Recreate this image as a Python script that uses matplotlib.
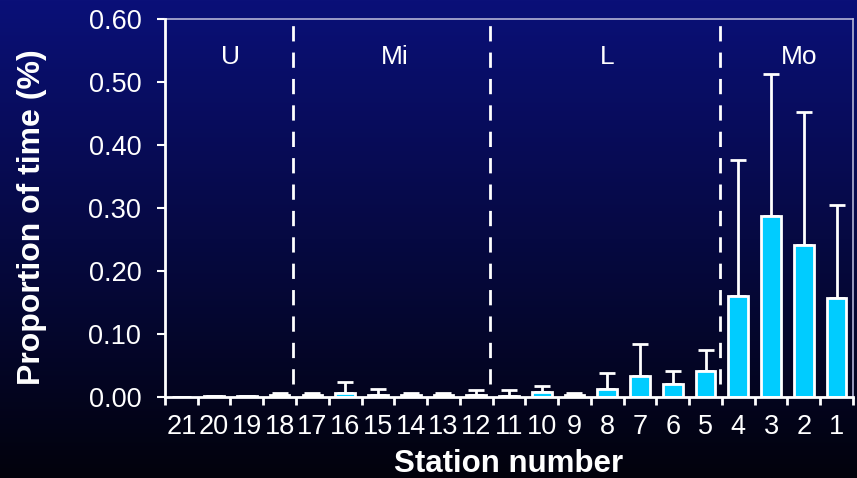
import numpy as np
import matplotlib.pyplot as plt

plt.rcParams['font.family'] = ['Liberation Sans', 'DejaVu Sans']

# Stations in the order they appear along the axis
stations = ['21', '20', '19', '18', '17', '16', '15', '14', '13', '12', '11',
            '10', '9', '8', '7', '6', '5', '4', '3', '2', '1']
means = [0.000, 0.002, 0.002, 0.003, 0.003, 0.007, 0.003, 0.003, 0.003, 0.003, 0.002,
         0.008, 0.003, 0.013, 0.033, 0.021, 0.041, 0.160, 0.287, 0.241, 0.157]
upper = [0.000, 0.002, 0.002, 0.006, 0.006, 0.024, 0.012, 0.006, 0.006, 0.011, 0.011,
         0.017, 0.006, 0.038, 0.084, 0.041, 0.075, 0.377, 0.513, 0.452, 0.305]
y_ticks = [0.0, 0.1, 0.2, 0.3, 0.4, 0.5, 0.6]

# River sections and the dividers between them (in station index units)
sections = ['U', 'Mi', 'L', 'Mo']
section_edges = [3.42, 9.42, 16.43]

fig = plt.figure(figsize=(8.57, 4.78), dpi=100)

# gradient background, navy at top to black at bottom
bg = fig.add_axes([0, 0, 1, 1], zorder=-10)
grad = np.linspace(0, 1, 256).reshape(-1, 1)
top = np.array([10, 16, 120]) / 255.0
bot = np.array([2, 2, 12]) / 255.0
img = bot + (top - bot) * grad[::-1]
bg.imshow(img[:, None, :].repeat(2, axis=1), aspect='auto', extent=[0, 1, 0, 1])
bg.axis('off')

ax = fig.add_axes([0.1925, 0.1695, 0.8028, 0.7905])
ax.patch.set_alpha(0)

x = np.arange(len(stations))
err = np.array(upper) - np.array(means)
ax.bar(x, means, width=0.6, color='#00CCFF', edgecolor='white', linewidth=2, zorder=3)
ax.errorbar(x, means, yerr=[np.zeros_like(err), err], fmt='none', ecolor='white',
            elinewidth=2, capsize=6, capthick=2, zorder=2)

for e in section_edges:
    ax.plot([e, e], [0.02, 0.6], color='white', lw=2, ls=(0, (5.5, 4)), zorder=1)

bounds = [-0.5, 3.5, 9.5, 16.5, 20.5]
for i, s in enumerate(sections):
    xc = (bounds[i] + bounds[i + 1]) / 2
    if s == 'Mo':
        xc += 0.35
    ax.text(xc, 0.54, s, color='white', fontsize=19, ha='center', va='center')

ax.set_xlim(-0.5, 20.5)
ax.set_ylim(0, 0.6)
ax.set_yticks(y_ticks)
ax.set_yticklabels(['%.2f' % v for v in y_ticks])
ax.set_xticks(x)
ax.set_xticklabels(stations)
ax.set_xticks(np.arange(-0.5, 21, 1), minor=True)
ax.tick_params(axis='x', which='major', length=0, pad=12, labelsize=19.5, colors='white')
ax.tick_params(axis='x', which='minor', length=6, width=2, colors='white', direction='out')
ax.tick_params(axis='y', length=6, width=1.5, colors='white', labelsize=19.5, pad=11)

for sp in ['top', 'right']:
    ax.spines[sp].set_color('#b4b4d6')
    ax.spines[sp].set_linewidth(1.2)
for sp in ['left', 'bottom']:
    ax.spines[sp].set_color('white')
    ax.spines[sp].set_linewidth(2)
    ax.spines[sp].set_zorder(4)

ax.set_xlabel('Station number', color='white', fontsize=22.5, fontweight='bold')
ax.set_ylabel('Proportion of time (%)', color='white', fontsize=23, fontweight='bold')
ax.xaxis.set_label_coords(0.5, -0.137)
ax.yaxis.set_label_coords(-0.172, 0.476)

fig.savefig('out.png', dpi=100)
